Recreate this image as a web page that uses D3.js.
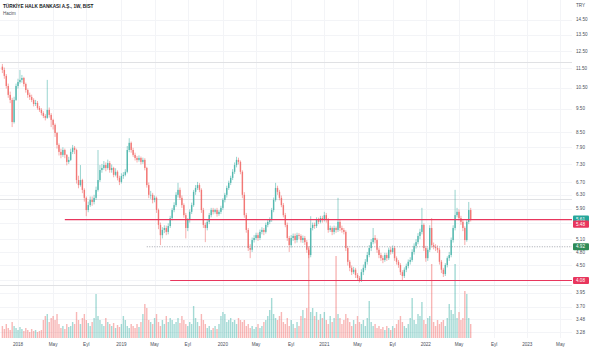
<!DOCTYPE html>
<html>
<head>
<meta charset="utf-8">
<title>HALKB 1W</title>
<style>
  body {margin:0; background:#fff}
  text {font-family:"Liberation Sans", Arial, sans-serif}
</style>
</head>
<body>
<script src="https://cdn.jsdelivr.net/npm/d3@7"></script>
<script>
// weekly candles, first bar week of 2017-11-06, open of the first bar
const firstWeek = '2017-11-06'
const firstOpen = 11.60

const closes = [
  11.42,11.10,10.58,10.14,9.90,8.91,9.90,10.58,10.78,10.89,10.99,10.68,10.38,10.14,10.04,9.90,9.71,9.76,9.53,9.44,9.30,9.17,9.09,9.44,9.22,9.00,8.79,8.46,7.99,7.73,7.62,7.80,7.62,7.37,7.44,7.73,7.88,7.80,6.76,6.60,6.76,6.45,6.21,5.86,6.00,6.15,6.09,6.21,6.45,6.76,7.09,7.16,7.26,7.16,7.33,7.09,7.16,6.93,7.03,6.83,6.70,6.89,
  6.93,7.03,7.80,8.07,7.80,7.62,7.51,7.44,7.51,7.37,7.44,7.16,6.60,6.30,6.30,6.15,6.21,5.86,5.46,5.20,5.33,5.38,5.28,5.43,5.64,5.86,6.00,6.30,6.45,6.21,6.00,5.72,5.38,5.59,5.81,6.00,6.39,6.51,6.60,6.45,5.86,5.46,5.38,5.54,5.72,5.86,5.81,5.86,5.75,5.81,5.92,6.15,6.30,6.51,6.67,6.83,7.03,7.26,7.44,7.37,7.03,6.30,
  5.72,5.33,4.89,4.85,5.08,5.13,5.20,5.13,5.28,5.33,5.28,5.46,5.54,5.59,5.86,6.15,6.51,6.39,6.21,6.00,5.72,5.46,5.13,4.96,5.13,5.18,5.08,5.20,5.18,5.08,5.13,5.03,4.85,4.73,5.38,5.46,5.43,5.59,5.54,5.64,5.59,5.72,5.59,5.33,5.38,5.28,5.38,5.33,5.54,5.38,5.33,5.28,4.89,4.58,4.45,4.36,4.41,4.30,4.24,4.20,
  4.36,4.45,4.58,4.73,4.89,5.03,5.13,5.08,4.85,4.73,4.66,4.62,4.73,4.66,4.85,4.80,4.89,4.66,4.58,4.51,4.36,4.28,4.41,4.49,4.58,4.62,4.80,4.94,5.03,5.18,5.28,5.46,4.89,4.66,4.85,5.38,4.96,4.92,4.89,4.85,4.58,4.41,4.32,4.51,4.66,4.73,5.08,5.38,5.72,5.81,5.64,5.54,5.38,5.08,5.54,5.86,5.61
]

const highs = [
  11.75,11.55,11.20,10.70,10.30,10.00,10.05,10.70,10.95,11.42,11.15,11.05,10.75,10.45,10.25,10.15,9.98,9.90,9.85,9.62,9.52,9.38,9.25,10.89,9.55,9.30,9.05,8.85,8.50,8.05,7.85,7.90,7.85,7.65,7.55,7.85,7.99,7.95,7.85,6.90,7.26,6.80,6.50,6.25,6.10,6.25,6.25,6.30,6.55,7.80,7.26,7.30,7.40,7.35,7.45,7.40,7.28,7.20,7.15,7.08,6.90,6.98,
  7.02,7.12,7.95,8.25,8.12,7.88,7.70,7.58,7.60,7.56,7.52,7.50,7.20,6.68,6.42,6.36,6.28,6.25,5.90,5.52,5.40,5.45,5.44,5.50,5.70,5.92,6.08,6.38,6.67,6.52,6.28,6.05,5.78,5.64,5.88,6.07,6.45,6.60,6.70,6.66,6.50,5.92,5.52,5.60,5.78,5.92,5.92,5.90,5.92,5.86,5.98,6.20,6.36,6.58,6.74,6.90,7.12,7.35,7.55,7.52,7.42,7.08,
  6.38,5.78,5.38,4.98,5.14,5.20,5.26,5.26,5.34,5.40,5.38,5.52,5.60,5.66,5.92,6.22,6.67,6.58,6.45,6.28,6.06,5.78,5.52,5.18,5.20,5.24,5.24,5.26,5.25,5.22,5.19,5.18,5.08,4.90,5.69,5.52,5.52,5.66,5.65,5.70,5.70,5.81,5.78,5.64,5.44,5.42,5.44,5.42,6.21,5.60,5.44,5.38,5.32,4.94,4.62,4.50,4.47,4.45,4.34,4.28,
  4.42,4.52,4.64,4.80,4.96,5.10,5.38,5.20,5.12,4.90,4.78,4.72,4.78,4.78,4.90,4.92,4.95,4.94,4.70,4.62,4.55,4.40,4.46,4.54,4.63,4.68,4.86,5.00,5.10,5.25,5.36,5.92,5.50,4.94,4.90,5.45,5.64,5.02,4.98,4.95,4.90,4.62,4.45,4.55,4.70,4.80,5.14,5.45,6.45,5.92,5.88,5.70,5.60,5.42,5.60,6.09,5.92
]

const lows = [
  11.25,10.95,10.45,10.00,9.75,8.70,8.85,9.85,10.45,10.70,10.75,10.55,10.25,10.00,9.90,9.80,9.60,9.62,9.45,9.35,9.20,9.08,8.98,9.05,9.10,8.70,8.60,8.30,7.85,7.60,7.50,7.55,7.50,7.25,7.30,7.40,7.65,7.65,6.65,6.50,6.55,6.35,6.10,5.69,5.80,5.95,5.98,6.02,6.15,6.40,6.70,7.00,7.10,7.05,7.10,7.00,7.00,6.85,6.88,6.75,6.60,6.65,
  6.80,6.88,6.98,7.72,7.70,7.55,7.42,7.35,7.38,7.28,7.30,7.08,6.52,6.20,6.18,6.05,6.08,5.78,5.35,4.96,5.12,5.25,5.20,5.22,5.38,5.58,5.80,5.95,6.22,6.15,5.92,5.65,5.12,5.30,5.52,5.75,5.95,6.30,6.45,6.38,5.78,5.38,5.03,5.32,5.48,5.66,5.74,5.76,5.68,5.70,5.75,5.86,6.08,6.22,6.45,6.60,6.76,6.96,7.18,7.28,6.95,6.20,
  5.65,5.26,4.82,4.66,4.80,5.02,5.08,5.06,5.08,5.22,5.20,5.24,5.40,5.48,5.54,5.80,6.10,6.30,6.14,5.94,5.66,5.40,5.06,4.80,4.90,5.06,5.00,5.02,5.10,5.02,5.01,4.96,4.78,4.66,4.68,5.32,5.36,5.38,5.48,5.50,5.52,5.55,5.52,5.26,5.28,5.20,5.22,5.26,5.28,5.30,5.26,5.22,4.82,4.50,4.38,4.30,4.32,4.24,4.18,4.15,
  4.16,4.30,4.40,4.52,4.68,4.82,4.98,5.00,4.78,4.66,4.60,4.55,4.58,4.60,4.62,4.74,4.76,4.60,4.52,4.45,4.30,4.20,4.24,4.36,4.44,4.52,4.58,4.74,4.88,4.98,5.10,5.22,4.82,4.58,4.60,4.80,4.90,4.86,4.82,4.78,4.52,4.34,4.26,4.28,4.46,4.60,4.68,5.02,5.32,5.66,5.58,5.46,5.30,4.96,5.04,5.48,5.55
]

// weekly volume, millions
const volumes = [
  12,9,14,10,8,16,12,10,8,11,9,7,10,8,6,9,7,8,6,7,8,18,22,24,16,20,22,18,24,14,10,12,9,14,11,12,16,14,26,18,14,20,24,18,15,12,16,20,44,22,18,14,12,20,16,14,12,15,10,13,11,14,
  22,18,12,10,14,12,10,14,11,16,24,34,30,18,16,14,20,24,16,12,18,14,22,16,20,18,14,16,20,15,22,18,14,12,16,14,32,20,16,12,24,18,14,10,12,8,10,12,9,14,22,26,24,16,18,20,16,18,14,20,18,16,
  18,12,14,10,12,9,11,14,10,12,16,18,22,28,40,24,20,18,22,26,16,14,20,12,18,14,10,16,12,22,28,20,30,92,26,30,22,26,18,24,20,26,18,14,22,16,20,82,24,20,14,18,24,20,16,12,18,14,22,16,
  14,18,12,20,37,16,12,14,10,12,9,11,8,12,10,8,12,10,14,18,22,16,12,10,14,20,40,18,14,24,22,36,18,14,20,22,74,16,12,18,14,16,18,12,20,34,28,24,74,20,26,18,20,47,44,20,14
]

const priceTicks = [14.5,13.5,12.5,11.5,10.5,9.5,8.5,7.9,7.3,6.7,6.3,5.9,5.5,5.1,4.8,4.5,4.2,3.95,3.7,3.48,3.28]

const tickDates = ['2018-01-01','2018-05-01','2018-09-01','2019-01-01','2019-05-01','2019-09-01','2020-01-01','2020-05-01','2020-09-01',
  '2021-01-01','2021-05-01','2021-09-01','2022-01-01','2022-05-01','2022-09-01','2023-01-01','2023-05-01']
const tickLabels = ['2018','May','Eyl','2019','May','Eyl','2020','May','Eyl','2021','May','Eyl','2022','May','Eyl','2023','May']

// drawn horizontal levels
const levelPrices = [5.60, 4.92, 4.19]
const levelStarts = ['2018-06-18', '2019-04-08', '2019-07-01']
const grayLevelPrices = [11.86, 6.17, 4.10]

// price scale labels
const boxTexts = ['5.61', '5.48', '4.92', '4.08']
const boxPrices = [5.61, 5.48, 4.92, 4.19]

const W = 593, H = 350
const plotRight = 572, plotBottom = 338
const up = '#26a69a', down = '#ef5350', lineRed = '#e8365d'

const parse = d3.timeParse('%Y-%m-%d')
const start = parse(firstWeek)

const data = closes.map((c, i) => ({
  date: d3.timeDay.offset(start, i * 7),
  open: i ? closes[i - 1] : firstOpen,
  close: c,
  high: highs[i],
  low: lows[i],
  vol: volumes[i]
}))

const x = d3.scaleTime()
  .domain([parse('2018-01-01'), parse('2023-01-01')])
  .range([18, 527])

const y = d3.scaleLog()
  .domain([3.28, 14.5])
  .range([331.9, 19.8])

const yv = d3.scaleLinear()
  .domain([0, d3.max(volumes)])
  .range([plotBottom, 246])

const svg = d3.select('body').append('svg')
  .attr('width', W)
  .attr('height', H)

svg.append('defs').append('clipPath').attr('id', 'plot')
  .append('rect').attr('x', 0).attr('y', 0).attr('width', plotRight).attr('height', plotBottom)

// grid
const grid = svg.append('g').attr('clip-path', 'url(#plot)')
grid.selectAll('line.h').data(priceTicks).join('line')
  .attr('x1', 0).attr('x2', plotRight)
  .attr('y1', d => Math.round(y(d)) + 0.5).attr('y2', d => Math.round(y(d)) + 0.5)
  .attr('stroke', '#f3f4f7')
grid.selectAll('line.v').data(tickDates).join('line')
  .attr('x1', d => Math.round(x(d3.timeMonday.ceil(parse(d)))) + 0.5)
  .attr('x2', d => Math.round(x(d3.timeMonday.ceil(parse(d)))) + 0.5)
  .attr('y1', 0).attr('y2', plotBottom)
  .attr('stroke', '#f3f4f7')

const plot = svg.append('g').attr('clip-path', 'url(#plot)')

// gray drawn lines
plot.selectAll('line.gray').data(grayLevelPrices).join('line')
  .attr('x1', 0).attr('x2', plotRight)
  .attr('y1', d => Math.round(y(d)) + 0.5).attr('y2', d => Math.round(y(d)) + 0.5)
  .attr('stroke', '#e0e1e4')

// volume
const bw = 1.4
plot.selectAll('rect.vol').data(data).join('rect')
  .attr('x', d => x(d.date) - bw / 2)
  .attr('width', bw)
  .attr('y', d => yv(d.vol))
  .attr('height', d => plotBottom - yv(d.vol))
  .attr('fill', d => d.close >= d.open ? up : down)
  .attr('fill-opacity', 0.42)

// candles
const candle = plot.selectAll('g.c').data(data).join('g')
candle.append('line')
  .attr('x1', d => x(d.date)).attr('x2', d => x(d.date))
  .attr('y1', d => y(d.high)).attr('y2', d => y(d.low))
  .attr('stroke', d => d.close >= d.open ? up : down)
  .attr('stroke-width', 0.6)
candle.append('rect')
  .attr('x', d => x(d.date) - bw / 2)
  .attr('width', bw)
  .attr('y', d => y(Math.max(d.open, d.close)))
  .attr('height', d => Math.max(0.6, Math.abs(y(d.open) - y(d.close))))
  .attr('fill', d => d.close >= d.open ? up : down)
candle.attr('opacity', 0.78)

// levels
plot.selectAll('line.lvl').data(levelPrices).join('line')
  .attr('x1', (d, i) => x(parse(levelStarts[i])))
  .attr('x2', plotRight)
  .attr('y1', d => y(d)).attr('y2', d => y(d))
  .attr('stroke', (d, i) => i === 1 ? '#8c9199' : lineRed)
  .attr('stroke-width', (d, i) => i === 1 ? 0.8 : 1.2)
  .attr('stroke-dasharray', (d, i) => i === 1 ? '1,1.5' : null)

// price axis
const fmt = d3.format('.2f')
svg.append('g').selectAll('text').data(priceTicks).join('text')
  .attr('x', 576).attr('y', d => y(d))
  .attr('dy', '0.35em')
  .attr('font-size', 4.6)
  .attr('fill', '#4a4f5a')
  .text(fmt)

svg.append('text')
  .attr('x', 576).attr('y', 5)
  .attr('dy', '0.35em')
  .attr('font-size', 4.6)
  .attr('fill', '#4a4f5a')
  .text('TRY')

const boxColors = [up, lineRed, '#2e8b57', lineRed]
const boxes = svg.append('g').selectAll('g').data(boxTexts).join('g')
  .attr('transform', (d, i) => `translate(573,${y(boxPrices[i])})`)
boxes.append('rect')
  .attr('x', 0).attr('y', -3.6).attr('width', 16).attr('height', 7.2).attr('rx', 1)
  .attr('fill', (d, i) => boxColors[i])
boxes.append('text')
  .attr('x', 3).attr('dy', '0.35em')
  .attr('font-size', 4.6)
  .attr('fill', '#fff')
  .text(d => d)

// time axis
svg.append('g').selectAll('text').data(tickDates).join('text')
  .attr('x', d => x(d3.timeMonday.ceil(parse(d))))
  .attr('y', 344)
  .attr('dy', '0.35em')
  .attr('text-anchor', 'middle')
  .attr('font-size', 4.6)
  .attr('fill', '#4a4f5a')
  .text((d, i) => tickLabels[i])

// header
svg.append('text')
  .attr('x', 3).attr('y', 6)
  .attr('dy', '0.35em')
  .attr('font-size', 4.7)
  .attr('font-weight', 'bold')
  .attr('fill', '#131722')
  .text('TÜRKİYE HALK BANKASI A.Ş., 1W, BIST')
svg.append('text')
  .attr('x', 3).attr('y', 13.5)
  .attr('dy', '0.35em')
  .attr('font-size', 4.5)
  .attr('fill', '#4a4f5a')
  .text('Hacim')
</script>
</body>
</html>
